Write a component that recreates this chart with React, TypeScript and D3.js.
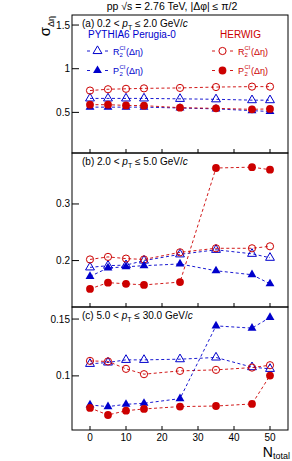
import * as d3 from 'd3';

// ─── Data ────────────────────────────────────────────────
const nTotal = [0, 5, 10, 15, 25, 35, 45, 50];

// (a) 0.2 < pT <= 2.0
const pythiaR2a = [0.66, 0.66, 0.66, 0.66, 0.655, 0.65, 0.64, 0.64];
const pythiaP2a = [0.56, 0.56, 0.56, 0.56, 0.55, 0.54, 0.52, 0.51];
const herwigR2a = [0.75, 0.765, 0.77, 0.775, 0.78, 0.79, 0.795, 0.795];
const herwigP2a = [0.588, 0.588, 0.58, 0.577, 0.554, 0.546, 0.535, 0.54];

// (b) 2.0 < pT <= 5.0
const pythiaR2b = [0.188, 0.191, 0.192, 0.2, 0.211, 0.219, 0.212, 0.205];
const pythiaP2b = [0.172, 0.187, 0.189, 0.191, 0.194, 0.182, 0.175, 0.159];
const herwigR2b = [0.202, 0.2065, 0.2035, 0.202, 0.2146, 0.2217, 0.2217, 0.2252];
const herwigP2b = [0.15, 0.161, 0.159, 0.157, 0.162, 0.3635, 0.365, 0.3605];

// (c) 5.0 < pT <= 30.0
const pythiaR2c = [0.1106, 0.1118, 0.1141, 0.1141, 0.1147, 0.1162, 0.1077, 0.1062];
const pythiaP2c = [0.0744, 0.073, 0.075, 0.0759, 0.08, 0.144, 0.142, 0.1514];
const herwigR2c = [0.1132, 0.1127, 0.1062, 0.1015, 0.1044, 0.1053, 0.1073, 0.1094];
const herwigP2c = [0.0718, 0.0656, 0.0694, 0.0709, 0.073, 0.0735, 0.0753, 0.1003];

const xTicks = [0, 10, 20, 30, 40, 50];
const yTicksA = [0.5, 1, 1.5];
const yTicksB = [0.2, 0.3];
const yTicksC = [0.1, 0.15];

const BLUE = '#0000cc';
const RED = '#cc0000';
const FONT = 'Liberation Sans, Arial, Helvetica, sans-serif';

const LEFT = 72;
const RIGHT = 288;

const x = d3.scaleLinear().domain([-5, 55]).range([LEFT, RIGHT]);

interface Panel {
  label: string;
  top: number;
  bottom: number;
  domain: [number, number];
  ticks: number[];
  pyR2: number[];
  pyP2: number[];
  hwR2: number[];
  hwP2: number[];
}

const panels: Panel[] = [
  { label: '(a) 0.2 < ', top: 15, bottom: 153, domain: [0.035, 1.615], ticks: yTicksA, pyR2: pythiaR2a, pyP2: pythiaP2a, hwR2: herwigR2a, hwP2: herwigP2a },
  { label: '(b) 2.0 < ', top: 153, bottom: 307, domain: [0.118, 0.39], ticks: yTicksB, pyR2: pythiaR2b, pyP2: pythiaP2b, hwR2: herwigR2b, hwP2: herwigP2b },
  { label: '(c) 5.0 < ', top: 307, bottom: 430, domain: [0.0524, 0.1606], ticks: yTicksC, pyR2: pythiaR2c, pyP2: pythiaP2c, hwR2: herwigR2c, hwP2: herwigP2c },
];
const labelTails = ['2.0', '5.0', '30.0'];

const triPath = d3.symbol(d3.symbolTriangle, 34)() as string;

function Marker({ kind, cx, cy }: { kind: string; cx: number; cy: number }) {
  if (kind === 'openTri')
    return <path d={triPath} transform={`translate(${cx},${cy})`} fill="none" stroke={BLUE} strokeWidth={1} />;
  if (kind === 'fullTri')
    return <path d={triPath} transform={`translate(${cx},${cy})`} fill={BLUE} />;
  if (kind === 'openCirc')
    return <circle cx={cx} cy={cy} r={3.6} fill="none" stroke={RED} strokeWidth={1} />;
  return <circle cx={cx} cy={cy} r={3.9} fill={RED} />;
}

function Series({ values, y, kind, color }: { values: number[]; y: d3.ScaleLinear<number, number>; kind: string; color: string }) {
  const line = d3
    .line<number>()
    .x((_, i) => x(nTotal[i]))
    .y((d) => y(d));
  return (
    <g>
      <path d={line(values) as string} fill="none" stroke={color} strokeWidth={0.9} strokeDasharray="3,2.5" />
      {values.map((v, i) => (
        <Marker key={i} kind={kind} cx={x(nTotal[i])} cy={y(v)} />
      ))}
    </g>
  );
}

function PanelView({ p, idx }: { p: Panel; idx: number }) {
  const y = d3.scaleLinear().domain(p.domain).range([p.bottom, p.top]);
  const isLast = idx === panels.length - 1;
  return (
    <g>
      {/* ticks */}
      {p.ticks.map((t) => (
        <g key={t}>
          <line x1={LEFT} x2={LEFT + 7} y1={y(t)} y2={y(t)} stroke="#000" />
          <text x={LEFT - 2} y={y(t) + 3.5} textAnchor="end" fontSize={10} fontFamily={FONT}>
            {t}
          </text>
        </g>
      ))}
      {xTicks.map((t) => (
        <g key={t}>
          <line x1={x(t)} x2={x(t)} y1={p.bottom} y2={p.bottom - 4} stroke="#000" />
          {isLast && (
            <text x={x(t)} y={p.bottom + 11} textAnchor="middle" fontSize={10} fontFamily={FONT}>
              {t}
            </text>
          )}
        </g>
      ))}
      {/* panel label */}
      <text x={82} y={p.top + 12} fontSize={10} fontFamily={FONT}>
        {p.label}
        <tspan fontStyle="italic">p</tspan>
        <tspan fontSize={7} dy={3}>T</tspan>
        <tspan dy={-3}>{` ≤ ${labelTails[idx]} GeV/`}</tspan>
        <tspan fontStyle="italic">c</tspan>
      </text>
      <Series values={p.pyR2} y={y} kind="openTri" color={BLUE} />
      <Series values={p.hwR2} y={y} kind="openCirc" color={RED} />
      <Series values={p.pyP2} y={y} kind="fullTri" color={BLUE} />
      <Series values={p.hwP2} y={y} kind="fullCirc" color={RED} />
      <rect x={LEFT} y={p.top} width={RIGHT - LEFT} height={p.bottom - p.top} fill="none" stroke="#000" strokeWidth={1} />
    </g>
  );
}

function LegendEntry({ x0, cy, kind, color, letter }: { x0: number; cy: number; kind: string; color: string; letter: string }) {
  return (
    <g>
      <line x1={x0} x2={x0 + 21} y1={cy} y2={cy} stroke={color} strokeWidth={0.9} strokeDasharray="3,3" />
      <rect x={x0 + 5} y={cy - 5} width={11} height={10} fill="#fff" />
      <Marker kind={kind} cx={x0 + 10.5} cy={cy} />
      <text x={x0 + 26} y={cy + 3.5} fontSize={9} fontFamily={FONT} fill={color}>
        {letter}
      </text>
      <text x={x0 + 32.5} y={cy - 1.5} fontSize={6} fontFamily={FONT} fill={color}>CI</text>
      <text x={x0 + 32.5} y={cy + 5.5} fontSize={6} fontFamily={FONT} fill={color}>2</text>
      <text x={x0 + 39} y={cy + 3.5} fontSize={9} fontFamily={FONT} fill={color}>(Δη)</text>
    </g>
  );
}

export default function App() {
  return (
    <div style={{ position: 'fixed', left: 0, top: 0 }}>
      <svg width={292} height={461} style={{ display: 'block', background: '#fff' }}>
        <rect width={292} height={461} fill="#fff" />
        <text x={172} y={10} textAnchor="middle" fontSize={10.5} fontFamily={FONT}>
          pp √s = 2.76 TeV, |Δφ| ≤ π/2
        </text>
        {panels.map((p, i) => (
          <PanelView key={i} p={p} idx={i} />
        ))}
        {/* legend */}
        <text x={88} y={38} fontSize={10} fontFamily={FONT} fill={BLUE}>PYTHIA6 Perugia-0</text>
        <text x={220} y={38} fontSize={10} fontFamily={FONT} fill={RED}>HERWIG</text>
        <LegendEntry x0={87} cy={51} kind="openTri" color={BLUE} letter="R" />
        <LegendEntry x0={87} cy={70.5} kind="fullTri" color={BLUE} letter="P" />
        <LegendEntry x0={212} cy={51} kind="openCirc" color={RED} letter="R" />
        <LegendEntry x0={212} cy={70.5} kind="fullCirc" color={RED} letter="P" />
        {/* axis titles */}
        <text transform="translate(50,16) rotate(-90)" textAnchor="end" fontSize={15} fontFamily={FONT}>
          σ<tspan fontSize={9} dy={4}>Δη</tspan>
        </text>
        <text x={290} y={457} textAnchor="end" fontSize={14} fontFamily={FONT}>
          N<tspan fontSize={9} dy={2}>total</tspan>
        </text>
      </svg>
    </div>
  );
}
